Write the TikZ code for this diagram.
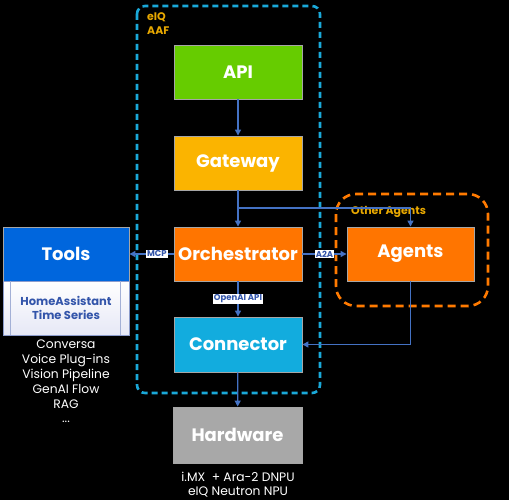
\documentclass[tikz,border=0pt]{standalone}
\usepackage{fontspec}
\setmainfont{Poppins}
\usetikzlibrary{arrows.meta}
\definecolor{apigreen}{HTML}{66CC00}
\definecolor{gwyellow}{HTML}{FBB400}
\definecolor{orchorange}{HTML}{FF7500}
\definecolor{conncyan}{HTML}{12ACDE}
\definecolor{hwgrey}{HTML}{A8A8A8}
\definecolor{toolsblue}{HTML}{0066DD}
\definecolor{arrblue}{HTML}{4472C4}
\definecolor{dashcyan}{HTML}{1AA8D8}
\definecolor{dashorange}{HTML}{FF7A00}
\definecolor{goldtext}{HTML}{E8A800}
\definecolor{labblue}{HTML}{3355AA}
\definecolor{subborder}{HTML}{8C9CCC}
\definecolor{sublav}{HTML}{E6E8F6}
\begin{document}
\begin{tikzpicture}[x=1pt,y=-1pt,
  box/.style={draw=gray!70, line width=0.9pt, minimum width=128pt, minimum height=54pt,
    text=white, font=\fontsize{18}{21}\selectfont\bfseries, inner sep=0pt},
  arr/.style={draw=arrblue, line width=1.3pt, -{Triangle[length=6pt,width=6pt]}},
  lab/.style={fill=white, text=labblue, font=\fontsize{8.5}{9}\selectfont\bfseries, inner sep=1pt},
  caption/.style={text=white, font=\fontsize{12.3}{14.8}\selectfont, align=center, inner sep=0pt},
  goldlab/.style={text=goldtext, font=\fontsize{11}{14}\selectfont\bfseries, inner sep=0pt}]
\fill[black] (0,0) rectangle (509,500);
\useasboundingbox (0,0) rectangle (509,500);
% dashed groups
\draw[dashcyan, line width=2.6pt, dash pattern=on 6pt off 4pt, rounded corners=8pt]
  (137,6) rectangle (320,393);
\draw[dashorange, line width=2.6pt, dash pattern=on 8pt off 5pt, rounded corners=20pt]
  (336,194) rectangle (488,306);
\node[goldlab, anchor=north west, align=left] (eiq) at (147,12) {eIQ\\AAF};
\node[goldlab, anchor=west] (other) at (351,211.5) {Other Agents};
% boxes
\node[box, fill=apigreen] (api) at (238,72) {API};
\node[box, fill=gwyellow] (gw) at (238,163) {Gateway};
\node[box, fill=orchorange] (orch) at (238,254) {Orchestrator};
\node[box, fill=orchorange, minimum width=127pt] (agents) at (410.5,254) {Agents};
\node[box, fill=conncyan, minimum height=55pt] (conn) at (238,344.5) {Connector};
\node[box, fill=hwgrey, minimum width=129pt, minimum height=56pt] (hw) at (237.5,435) {Hardware};
\node[box, fill=toolsblue, minimum width=126pt] (tools) at (66,254) {Tools};
\node[draw=subborder, line width=0.9pt, top color=white, bottom color=sublav,
  minimum width=126pt, minimum height=54pt, inner sep=0pt, text=labblue,
  font=\fontsize{11.5}{14.5}\selectfont\bfseries, align=center] (sub) at (66,308)
  {HomeAssistant\\Time Series};
\draw[subborder!80, line width=0.8pt] (sub.north west) ++(8,0) -- ++(0,54);
\draw[subborder!80, line width=0.8pt] (sub.north east) ++(-9,0) -- ++(0,54);
% connectors
\coordinate (br) at (238,208);
\draw[arr] (api) -- (gw);
\draw[arr] (gw) -- (orch);
\draw[arr] (br) -| (agents.north);
\draw[arr] (orch.west) -- node[lab, pos=0.38]{MCP} (tools.east);
\draw[arr] (orch.east) -- node[lab]{A2A} (agents.west);
\draw[arr] (orch) -- node[lab]{OpenAI API} (conn);
\draw[arr] (agents.south) |- (conn.east);
\draw[arr] (conn) -- (hw);
% captions
\node[caption, anchor=north] (toollist) at (66,340) {Conversa\\Voice Plug-ins\\Vision Pipeline\\GenAI Flow\\RAG\\...};
\node[caption, anchor=north, font=\fontsize{12.3}{13.5}\selectfont] (hwlist) at (238,472) {i.MX\ \ + Ara-2 DNPU\\eIQ Neutron NPU};
\end{tikzpicture}
\end{document}
